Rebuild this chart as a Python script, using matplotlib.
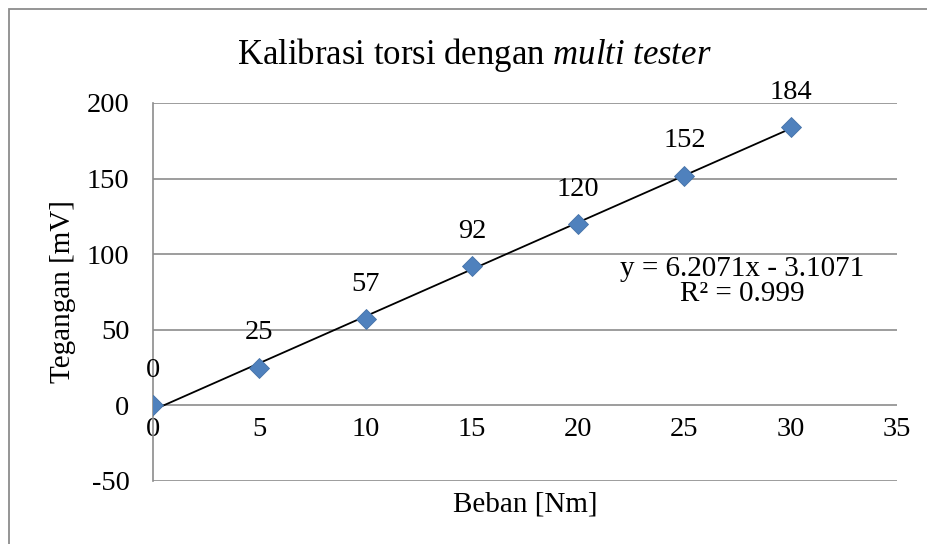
import numpy as np
import matplotlib.pyplot as plt
from matplotlib.patches import Rectangle

plt.rcParams['font.family'] = ['Liberation Serif', 'DejaVu Serif']
plt.rcParams['mathtext.fontset'] = 'custom'
plt.rcParams['mathtext.rm'] = 'Liberation Serif'
plt.rcParams['mathtext.it'] = 'Liberation Serif:italic'
plt.rcParams['axes.unicode_minus'] = False

beban = [0, 5, 10, 15, 20, 25, 30]
tegangan = [0, 25, 57, 92, 120, 152, 184]
slope = 6.2071
intercept = -3.1071
x_ticks = [0, 5, 10, 15, 20, 25, 30, 35]
y_ticks = [-50, 0, 50, 100, 150, 200]

fig = plt.figure(figsize=(9.28, 5.44), dpi=100)
ax = fig.add_axes([153 / 928, 63 / 544, 744 / 928, 378 / 544])

# outer chart border (right/bottom edges fall outside the picture)
fig.patches.append(Rectangle((9.5 / 928, -0.2), 1.2, (544 - 8.5) / 544 + 0.2,
                             transform=fig.transFigure, fill=False,
                             edgecolor='#8c8c8c', linewidth=1.3))

grid_col = '#8c8c8c'
for yv in y_ticks:
    ax.axhline(yv, color=grid_col, linewidth=1.2, zorder=1)

# trendline
xt = np.array([beban[0], beban[-1]])
ax.plot(xt, slope * xt + intercept, color='black', linewidth=1.3, zorder=2)

ax.plot(beban, tegangan, linestyle='none', marker='D', markersize=10,
        color='#4F81BD', markeredgecolor='#4572A7', markeredgewidth=0.6, zorder=3)

for x, y in zip(beban, tegangan):
    ax.annotate(str(y), (x, y), xytext=(0, 16), textcoords='offset points',
                ha='center', va='bottom', fontsize=20.5)

ax.text(0.792, 0.529, 'y = 6.2071x - 3.1071\nR² = 0.999', transform=ax.transAxes,
        ha='center', va='center', fontsize=21, linespacing=0.95)

ax.set_xlim(0, 35)
ax.set_ylim(-50, 200)
ax.set_yticks(y_ticks)
ax.set_xticks(x_ticks)
ax.tick_params(axis='both', length=0, labelsize=20.5)
ax.tick_params(axis='y', pad=17)
ax.tick_params(axis='x', pad=8)

# x tick labels sit just under the zero line
ax.xaxis.set_ticks_position('bottom')
ax.spines['bottom'].set_position(('data', 0))
for s in ['top', 'right', 'bottom']:
    ax.spines[s].set_visible(False)
ax.spines['left'].set_color(grid_col)
ax.spines['left'].set_linewidth(1.2)

ax.set_xlabel('Beban [Nm]', fontsize=21, va='center')
ax.xaxis.set_label_coords(0.5, -0.063)
ax.set_ylabel('Tegangan [mV]', fontsize=21, va='center')
ax.yaxis.set_label_coords(-0.121, 0.5)

fig.text(474 / 928, 1 - 55 / 544, 'Kalibrasi torsi dengan $\\it{multi\\ tester}$',
         ha='center', va='center', fontsize=25)

fig.savefig('out.png', dpi=100)
